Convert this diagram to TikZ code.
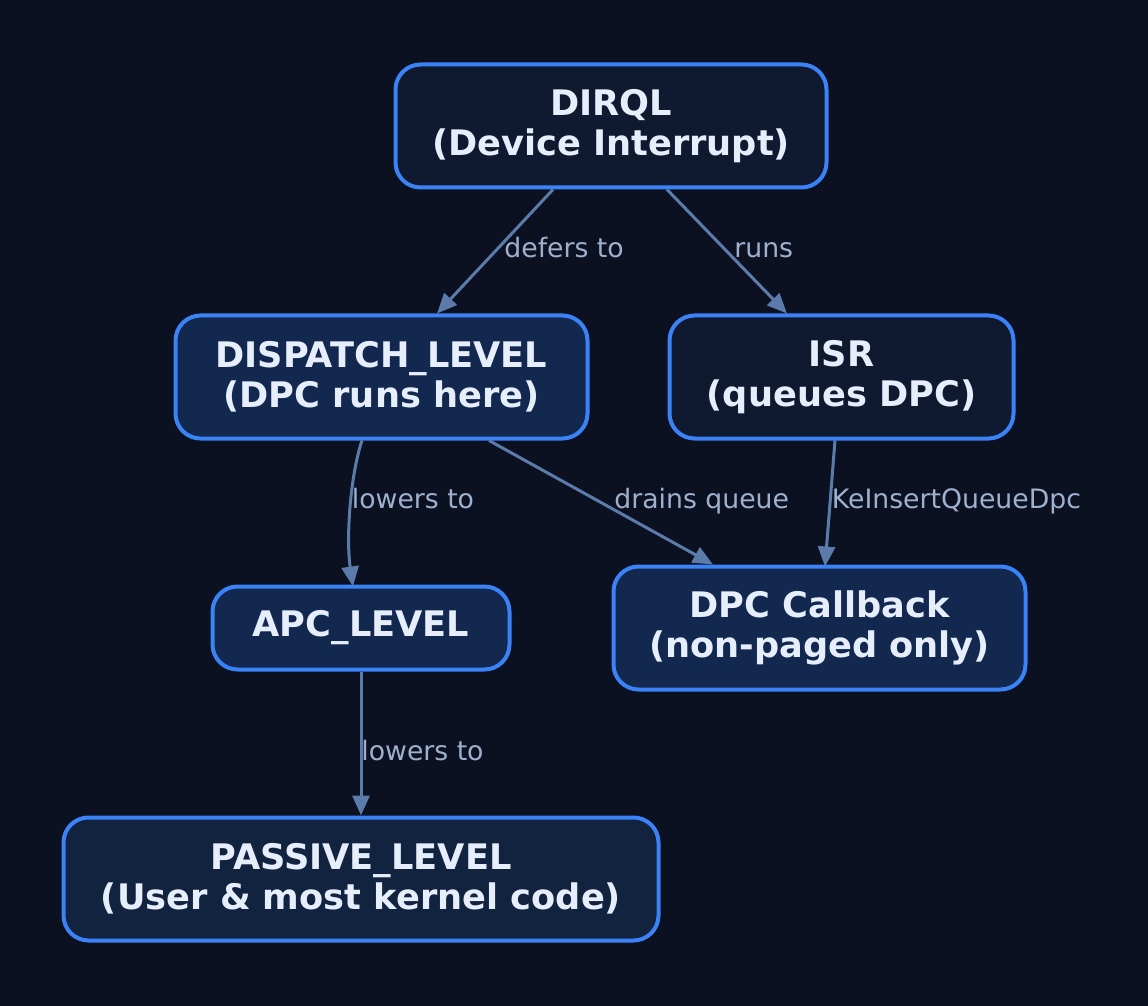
\documentclass[tikz,border=0pt]{standalone}
\usepackage{fontspec}
\setmainfont{DejaVu Sans}
\usetikzlibrary{arrows.meta,calc}
\definecolor{bg}{HTML}{0B1120}
\definecolor{filldark}{HTML}{0F1A30}
\definecolor{fillmid}{HTML}{13284F}
\definecolor{fillpass}{HTML}{12233F}
\definecolor{borderc}{HTML}{3B82F6}
\definecolor{edgec}{HTML}{5B7BAA}
\definecolor{labelc}{HTML}{9FB0CF}
\definecolor{nodetext}{HTML}{E6EEFB}
\begin{document}
\begin{tikzpicture}[x=0.5pt,y=-0.5pt,
  box/.style={draw=borderc, line width=2pt, rounded corners=12.5pt, inner sep=0pt,
    align=center, text=nodetext, font=\fontsize{17.6}{20}\selectfont\bfseries},
  conn/.style={draw=edgec, line width=1.5pt, -{Triangle[length=10pt,width=8.5pt]}},
  elabel/.style={text=labelc, font=\fontsize{13.35}{15}\selectfont, inner sep=0pt, anchor=base west}]
\fill[bg] (0,0) rectangle (1148,1006);
\useasboundingbox (0,0) rectangle (1148,1006);

\node[box, fill=filldark, minimum width=215.5pt, minimum height=61.5pt] (dirql) at (611,126) {DIRQL\\(Device Interrupt)};
\node[box, fill=fillmid, minimum width=206pt, minimum height=61.5pt] (dispatch) at (381.5,377) {DISPATCH\_LEVEL\\(DPC runs here)};
\node[box, fill=filldark, minimum width=172pt, minimum height=61.5pt] (isr) at (841.5,377) {ISR\\(queues DPC)};
\node[box, fill=fillmid, minimum width=148.5pt, minimum height=41.5pt] (apc) at (361,628) {APC\_LEVEL};
\node[box, fill=fillmid, minimum width=206pt, minimum height=61.5pt] (dpc) at (819.5,628) {DPC Callback\\(non-paged only)};
\node[box, fill=fillpass, minimum width=297.5pt, minimum height=61.5pt] (passive) at (361,879) {PASSIVE\_LEVEL\\(User \& most kernel code)};

\draw[conn] ($(dirql.south)+(-58,0)$) -- ($(dispatch.north)+(55.5,0)$);
\draw[conn] ($(dirql.south)+(56,0)$) -- ($(isr.north)+(-54.5,0)$);
\draw[conn] ($(dispatch.south)+(-19.5,0)$) .. controls ($(dispatch.south)+(-31.5,36)$) and ($(apc.north)+(-15,-46)$) .. ($(apc.north)+(-8,2)$);
\draw[conn] ($(dispatch.south)+(107.5,0)$) -- ($(dpc.north)+(-106.5,0)$);
\draw[conn] ($(isr.south)+(-6.5,0)$) -- ($(dpc.north)+(5.5,2)$);
\draw[conn] (apc.south) -- (passive.north);

\node[elabel] (l1) at (504,258) {defers to};
\node[elabel] (l2) at (734,258) {runs};
\node[elabel] (l3) at (351.5,509) {lowers to};
\node[elabel] (l4) at (614,509) {drains queue};
\node[elabel] (l5) at (831.5,509) {KeInsertQueueDpc};
\node[elabel] (l6) at (361,760) {lowers to};
\end{tikzpicture}
\end{document}
